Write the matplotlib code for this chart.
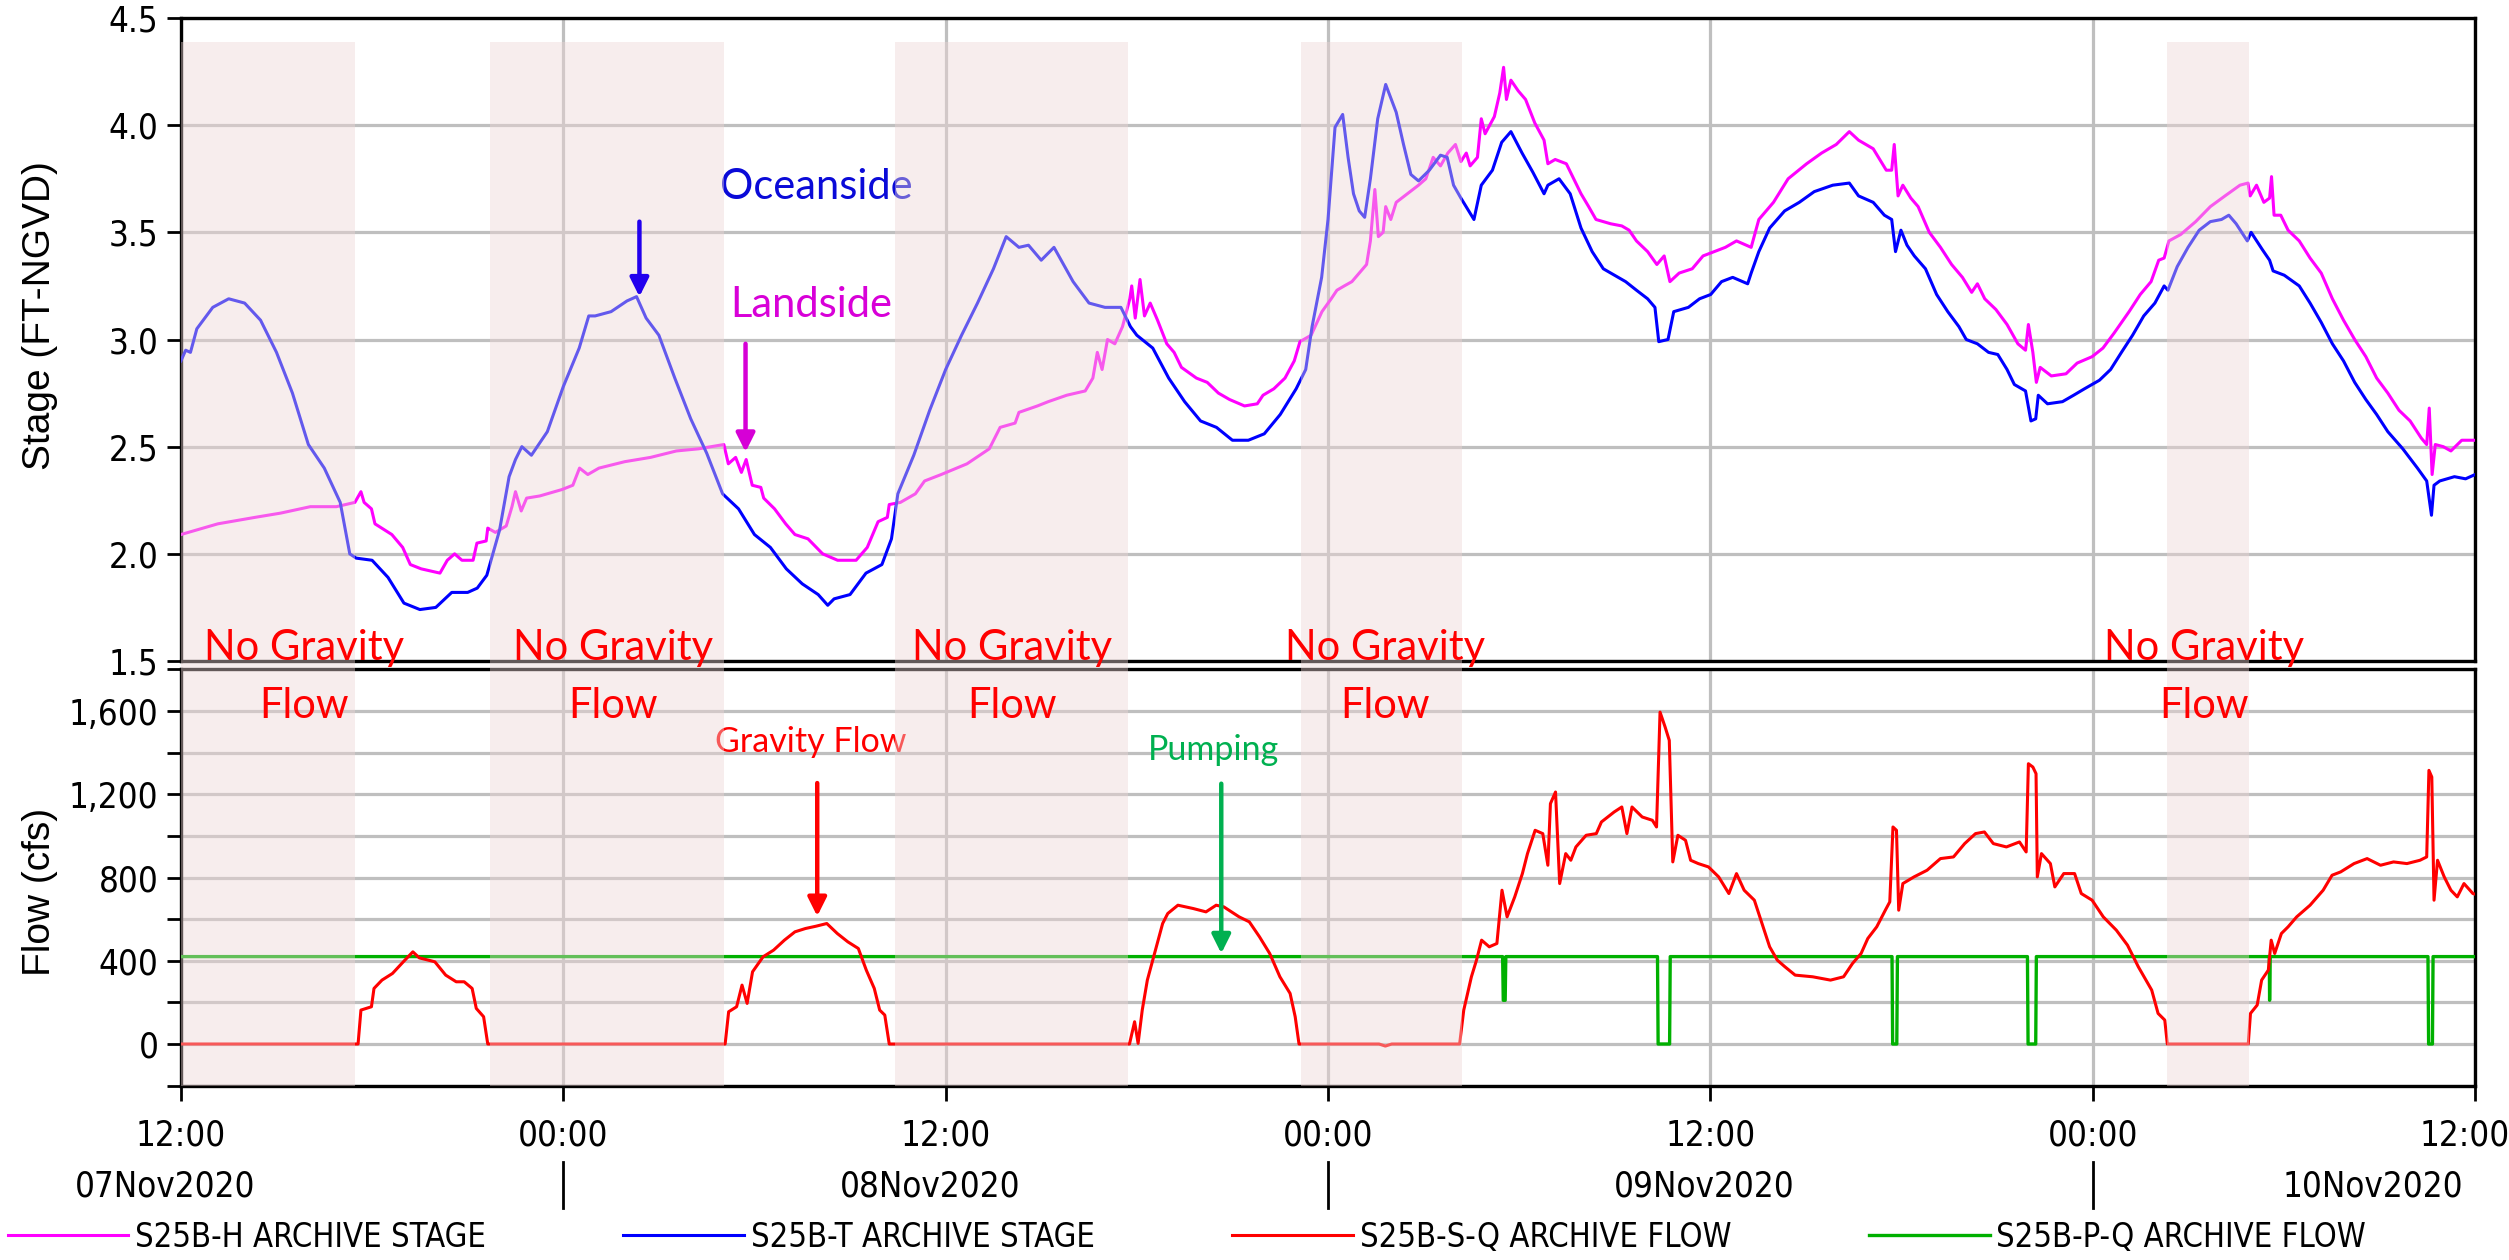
import matplotlib
matplotlib.use("Agg")
import matplotlib.pyplot as plt
from matplotlib import font_manager
from matplotlib.font_manager import FontProperties
from matplotlib.patches import Rectangle, FancyArrowPatch
from matplotlib.ticker import MultipleLocator, FuncFormatter
from matplotlib.transforms import blended_transform_factory, ScaledTranslation

# time axis: hours since 07Nov2020 12:00
landside_hr = [0, 1.16, 2.32, 3.13, 4.06, 4.88, 5.46, 5.65, 5.75, 5.98, 6.09, 6.62, 6.96, 7.20, 7.54, 8.13, 8.36,
               8.59, 8.82, 9.17, 9.29, 9.58, 9.63, 9.87, 10.21, 10.39, 10.50, 10.68, 10.85, 11.26, 11.96, 12.30,
               12.51, 12.77, 13.12, 13.93, 14.74, 15.55, 16.25, 17.04, 17.18, 17.41, 17.59, 17.74, 17.93, 18.20,
               18.29, 18.63, 18.98, 19.27, 19.68, 20.14, 20.61, 21.19, 21.54, 21.88, 22.17, 22.23, 22.58, 23.05,
               23.34, 23.86, 24.67, 25.37, 25.71, 26.18, 26.30, 26.88, 27.22, 27.80, 28.38, 28.62, 28.76, 28.91,
               29.08, 29.31, 29.55, 29.78, 29.84, 29.95, 30.10, 30.24, 30.42, 30.65, 30.94, 31.17, 31.40, 31.87,
               32.21, 32.56, 32.91, 33.38, 33.78, 33.96, 34.30, 34.65, 34.94, 35.12, 35.47, 35.81, 36.10, 36.28,
               36.51, 36.75, 36.98, 37.21, 37.33, 37.47, 37.58, 37.73, 37.81, 37.97, 38.14, 38.49, 38.84, 39.07,
               39.30, 39.53, 39.76, 40.00, 40.17, 40.34, 40.46, 40.69, 40.81, 40.93, 41.22, 41.39, 41.51, 41.60,
               41.74, 41.97, 42.20, 42.49, 42.78, 42.90, 43.13, 43.48, 43.71, 43.94, 44.18, 44.41, 44.87, 45.22,
               45.45, 45.68, 46.03, 46.32, 46.55, 46.73, 47.02, 47.43, 47.77, 48.12, 48.47, 48.82, 49.28, 49.52,
               49.98, 50.44, 51.02, 51.49, 51.95, 52.36, 52.65, 53.11, 53.52, 53.69, 53.77, 53.89, 54.04, 54.29,
               54.52, 54.87, 55.22, 55.57, 55.91, 56.20, 56.38, 56.61, 56.96, 57.31, 57.65, 57.89, 57.98, 58.12,
               58.23, 58.35, 58.70, 59.16, 59.51, 59.98, 60.32, 60.67, 61.14, 61.49, 61.83, 62.07, 62.24, 62.39,
               62.76, 63.23, 63.69, 64.15, 64.62, 64.87, 64.94, 65.14, 65.37, 65.55, 65.61, 65.69, 65.90, 66.13,
               66.48, 66.82, 67.17, 67.52, 67.87, 68.22, 68.57, 68.91, 69.26, 69.61, 69.96, 70.31, 70.48, 70.56,
               70.65, 70.75, 71.00, 71.24, 71.58, 72.0]
landside_ft = [2.09, 2.14, 2.17, 2.19, 2.22, 2.22, 2.24, 2.29, 2.24, 2.21, 2.14, 2.09, 2.03, 1.95, 1.93, 1.91, 1.97,
               2.00, 1.97, 1.97, 2.05, 2.06, 2.12, 2.10, 2.13, 2.22, 2.29, 2.20, 2.26, 2.27, 2.30, 2.32,
               2.40, 2.37, 2.40, 2.43, 2.45, 2.48, 2.49, 2.51, 2.42, 2.45, 2.38, 2.44, 2.32, 2.31,
               2.26, 2.21, 2.14, 2.09, 2.07, 2.00, 1.97, 1.97, 2.03, 2.15, 2.17, 2.23, 2.24, 2.28,
               2.34, 2.37, 2.42, 2.49, 2.59, 2.61, 2.66, 2.69, 2.71, 2.74, 2.76, 2.82, 2.94, 2.86,
               3.00, 2.98, 3.06, 3.19, 3.25, 3.10, 3.28, 3.11, 3.17, 3.09, 2.98, 2.94, 2.87, 2.82,
               2.80, 2.75, 2.72, 2.69, 2.70, 2.74, 2.77, 2.82, 2.90, 2.99, 3.02, 3.13, 3.19, 3.23,
               3.25, 3.27, 3.31, 3.35, 3.46, 3.70, 3.48, 3.50, 3.62, 3.56, 3.64, 3.68, 3.72, 3.75,
               3.85, 3.81, 3.87, 3.91, 3.83, 3.87, 3.81, 3.85, 4.03, 3.96, 4.04, 4.15, 4.27, 4.12,
               4.21, 4.16, 4.12, 4.01, 3.93, 3.82, 3.84, 3.82, 3.75, 3.68, 3.62, 3.56, 3.54, 3.53,
               3.51, 3.46, 3.41, 3.35, 3.39, 3.27, 3.31, 3.33, 3.39, 3.41, 3.43, 3.46, 3.43, 3.56,
               3.64, 3.75, 3.82, 3.87, 3.91, 3.97, 3.93, 3.89, 3.79, 3.79, 3.91, 3.67, 3.72, 3.66,
               3.62, 3.50, 3.43, 3.35, 3.29, 3.22, 3.26, 3.19, 3.14, 3.07, 2.98, 2.95, 3.07, 2.94,
               2.80, 2.87, 2.83, 2.84, 2.89, 2.92, 2.96, 3.03, 3.13, 3.21, 3.27, 3.37, 3.38, 3.46,
               3.49, 3.55, 3.62, 3.67, 3.72, 3.73, 3.67, 3.72, 3.64, 3.66, 3.76, 3.58, 3.58, 3.51,
               3.46, 3.38, 3.31, 3.19, 3.09, 3.00, 2.92, 2.82, 2.75, 2.67, 2.62, 2.54, 2.51, 2.68,
               2.37, 2.51, 2.50, 2.48, 2.53, 2.53]

oceanside_hr = [0, 0.15, 0.3, 0.5, 1, 1.5, 2, 2.5, 3, 3.5, 4, 4.5, 5, 5.3, 5.5, 6, 6.5, 7, 7.5, 8, 8.5, 9, 9.3,
                9.6, 10, 10.3, 10.5, 10.7, 11, 11.5, 12, 12.5, 12.8, 13, 13.5, 14, 14.3, 14.6, 15, 15.5, 16, 16.5,
                17, 17.5, 18, 18.5, 19, 19.5, 20, 20.3, 20.5, 21, 21.5, 22, 22.3, 22.5, 23, 23.5, 24, 24.5, 25,
                25.5, 25.9, 26.3, 26.6, 27, 27.4, 28, 28.5, 29, 29.5, 29.8, 30, 30.5, 31, 31.5, 32, 32.5, 33,
                33.5, 34, 34.5, 35, 35.3, 35.5, 35.8, 36.0, 36.22, 36.46, 36.63, 36.80, 36.98, 37.15, 37.33,
                37.56, 37.81, 38.14, 38.37, 38.60, 38.84, 39.18, 39.53, 39.74, 39.94, 40.17, 40.58, 40.81, 41.16,
                41.45, 41.74, 42.09, 42.43, 42.78, 42.90, 43.25, 43.60, 43.94, 44.29, 44.64, 44.99, 45.34, 45.68,
                46.03, 46.26, 46.38, 46.67, 46.85, 47.31, 47.66, 48.01, 48.35, 48.70, 49.17, 49.28, 49.52, 49.86,
                50.33, 50.79, 51.26, 51.84, 52.36, 52.65, 53.11, 53.46, 53.69, 53.81, 53.98, 54.17, 54.40, 54.75,
                55.10, 55.45, 55.80, 56.03, 56.38, 56.73, 57.02, 57.31, 57.54, 57.89, 58.06, 58.21, 58.29, 58.58,
                59.05, 59.40, 59.74, 60.21, 60.56, 60.90, 61.25, 61.60, 61.95, 62.24, 62.36, 62.65, 62.99, 63.34,
                63.69, 64.04, 64.27, 64.50, 64.85, 64.97, 65.32, 65.55, 65.66, 66.01, 66.48, 66.82, 67.17, 67.52,
                67.87, 68.22, 68.57, 68.91, 69.26, 69.73, 70.19, 70.48, 70.63, 70.71, 70.89, 71.35, 71.70, 72.0]
oceanside_ft = [2.90, 2.95, 2.94, 3.05, 3.15, 3.19, 3.17, 3.09, 2.94, 2.75, 2.51, 2.40, 2.24, 2.00, 1.98, 1.97, 1.89,
                1.77, 1.74, 1.75, 1.82, 1.82, 1.84, 1.90, 2.11, 2.36, 2.44, 2.50, 2.46, 2.57, 2.78, 2.96, 3.11,
                3.11, 3.13, 3.18, 3.20, 3.10, 3.02, 2.82, 2.63, 2.47, 2.28, 2.21, 2.09, 2.03, 1.93, 1.86, 1.81,
                1.76, 1.79, 1.81, 1.91, 1.95, 2.07, 2.28, 2.46, 2.67, 2.86, 3.02, 3.17, 3.33, 3.48, 3.43, 3.44,
                3.37, 3.43, 3.27, 3.17, 3.15, 3.15, 3.06, 3.02, 2.96, 2.82, 2.71, 2.62, 2.59, 2.53, 2.53, 2.56,
                2.65, 2.77, 2.86, 3.06, 3.29, 3.56, 3.99, 4.05, 3.85, 3.68, 3.60, 3.57, 3.75, 4.03, 4.19, 4.06,
                3.91, 3.77, 3.74, 3.79, 3.86, 3.85, 3.72, 3.66, 3.56, 3.72, 3.79, 3.92, 3.97, 3.87, 3.78, 3.68,
                3.72, 3.75, 3.68, 3.52, 3.41, 3.33, 3.30, 3.27, 3.23, 3.19, 3.15, 2.99, 3.00, 3.13, 3.15, 3.19,
                3.21, 3.27, 3.29, 3.26, 3.31, 3.41, 3.52, 3.60, 3.64, 3.69, 3.72, 3.73, 3.67, 3.64, 3.58, 3.56,
                3.41, 3.51, 3.44, 3.39, 3.33, 3.21, 3.13, 3.06, 3.00, 2.98, 2.94, 2.93, 2.86, 2.79, 2.76, 2.62,
                2.63, 2.74, 2.70, 2.71, 2.74, 2.77, 2.81, 2.86, 2.94, 3.02, 3.11, 3.17, 3.25, 3.23, 3.34, 3.43,
                3.51, 3.55, 3.56, 3.58, 3.54, 3.46, 3.50, 3.42, 3.37, 3.32, 3.30, 3.25, 3.17, 3.08, 2.98, 2.90,
                2.80, 2.72, 2.65, 2.57, 2.49, 2.40, 2.34, 2.18, 2.32, 2.34, 2.36, 2.35, 2.37]

gravity_hr = [0, 5.56, 5.65, 5.98, 6.06, 6.31, 6.64, 6.98, 7.28, 7.48, 7.97, 8.31, 8.64, 8.89, 9.14, 9.27, 9.50, 9.63,
              17.08, 17.19, 17.44, 17.61, 17.77, 17.94, 18.27, 18.60, 18.94, 19.27, 19.60, 19.93, 20.27, 20.60,
              20.93, 21.26, 21.51, 21.76, 21.93, 22.09, 22.23,
              29.77, 29.93, 30.04, 30.17, 30.33, 30.57, 30.81, 30.97, 31.29, 31.77, 32.17, 32.49, 32.73, 33.21,
              33.53, 33.85, 34.17, 34.49, 34.81, 34.97, 35.09, 37.6, 37.8, 38.0,
              40.13, 40.26, 40.50, 40.66, 40.82, 41.06, 41.30, 41.46, 41.62, 41.86, 42.10, 42.26, 42.50, 42.74,
              42.90, 42.98, 43.14, 43.27, 43.46, 43.62, 43.78, 44.10, 44.42, 44.58, 44.98, 45.22, 45.38, 45.54,
              45.86, 46.18, 46.31, 46.42, 46.58, 46.71, 46.82, 46.98, 47.22, 47.38, 47.62, 47.94, 48.26, 48.58,
              48.82, 49.06, 49.38, 49.62, 49.86, 50.10, 50.34, 50.66, 51.21, 51.77, 52.18, 52.46, 52.73, 52.94,
              53.22, 53.49, 53.63, 53.73, 53.84, 53.91, 54.04, 54.39, 54.80, 55.22, 55.63, 55.98, 56.32, 56.60,
              56.88, 57.29, 57.70, 57.91, 57.98, 58.12, 58.22, 58.26, 58.39, 58.67, 58.81, 59.09, 59.43, 59.64,
              59.98, 60.33, 60.74, 61.09, 61.43, 61.85, 62.05, 62.26, 62.34,
              64.88, 64.95, 65.16, 65.30, 65.51, 65.60, 65.71, 65.92, 66.13, 66.40, 66.82, 67.23, 67.51, 67.78,
              68.20, 68.61, 69.03, 69.44, 69.86, 70.27, 70.48, 70.55, 70.64, 70.71, 70.82, 71.03, 71.24, 71.44,
              71.65, 71.93, 72.0]
gravity_cfs = [0, 0, 163, 179, 267, 307, 339, 395, 443, 414, 395, 331, 299, 299, 267, 171, 131, 0,
               0, 155, 179, 283, 195, 347, 419, 451, 499, 539, 555, 566, 579, 531,
               491, 459, 355, 267, 163, 139, 0,
               0, 107, 3, 163, 307, 443, 579, 627, 667, 651, 635, 667, 659, 611,
               587, 515, 435, 323, 243, 131, 0, 0, -10, 0,
               0, 163, 323, 403, 499, 467, 483, 739, 611, 707, 819, 915, 1027, 1011,
               859, 1155, 1211, 771, 915, 883, 947, 1003, 1011, 1067, 1115, 1139, 1011, 1139,
               1091, 1075, 1043, 1595, 1523, 1459, 875, 1003, 979, 883, 867, 851, 803, 723,
               819, 739, 691, 579, 467, 403, 371, 331, 323, 307, 323, 387, 435, 507,
               563, 643, 683, 1043, 1027, 643, 771, 803, 835, 891, 899, 963, 1011, 1019,
               963, 947, 971, 923, 1347, 1331, 1299, 803, 915, 867, 755, 819, 819, 723,
               691, 611, 547, 475, 371, 259, 147, 115, 0,
               0, 147, 187, 307, 355, 499, 435, 531, 563, 611, 667, 739, 811, 827,
               867, 891, 859, 875, 867, 883, 899, 1315, 1283, 691, 883, 803, 739, 707,
               771, 723, 720]

pump_hr = [0, 41.48, 41.50, 41.56, 41.58, 46.34, 46.36, 46.72, 46.74, 53.70, 53.72, 53.85, 53.87, 57.95, 57.97,
           58.21, 58.23, 65.54, 65.55, 65.57, 70.52, 70.54, 70.66, 70.68, 72]
pump_cfs = [420, 420, 210, 210, 420, 420, 0, 0, 420, 420, 0, 0, 420, 420, 0,
            0, 420, 420, 210, 420, 420, 0, 0, 420, 420]

# periods without gravity flow (start, end hours)
no_gravity = [(0, 5.46), (9.69, 17.04), (22.41, 29.72), (35.15, 40.19), (62.32, 64.89)]
no_gravity_mid = [3.88, 13.56, 26.1, 37.8, 63.5]

tick_hours = [0, 12, 24, 36, 48, 60, 72]
tick_names = ["12:00", "00:00", "12:00", "00:00", "12:00", "00:00", "12:00"]
day_names = ["07Nov2020", "08Nov2020", "09Nov2020", "10Nov2020"]
day_pos = [-0.5, 23.5, 47.8, 68.8]
midnights = [12, 36, 60]


def narrow_font():
    # look for a condensed sans face, like the Arial Narrow of the original
    best = None
    for f in font_manager.fontManager.ttflist:
        if f.style != "normal" or f.weight not in (400, "normal", "regular"):
            continue
        squeezed = ("Narrow" in f.name or "Condensed" in f.name or f.stretch in ("condensed", "semi-condensed"))
        if not squeezed or "Extra" in f.name or "Mono" in f.name or "Serif" in f.name:
            continue
        rank = 0 if "Liberation Sans Narrow" in f.name else 1 if "Sans" in f.name or "Roboto" in f.name else 2
        if best is None or rank < best[0]:
            best = (rank, f.fname)
    return best[1] if best else None


path = narrow_font()
if path:
    tick_fp = FontProperties(fname=path, size=25)
    leg_fp = FontProperties(fname=path, size=23.5)
else:
    tick_fp = FontProperties(family="Liberation Sans", size=22)
    leg_fp = FontProperties(family="Liberation Sans", size=21)
names = {f.name for f in font_manager.fontManager.ttflist}
note_font = "Lato" if "Lato" in names else "DejaVu Sans"

fig = plt.figure(figsize=(25.09, 12.6), dpi=100)
ax1 = fig.add_axes([0.0721, 0.4754, 0.9144, 0.5103])
ax2 = fig.add_axes([0.0721, 0.1384, 0.9144, 0.3303], sharex=ax1)

grid_kw = dict(color="#bfbfbf", lw=2.3)

l_h, = ax1.plot(landside_hr, landside_ft, color="#ff00ff", lw=2.2, zorder=3)
l_t, = ax1.plot(oceanside_hr, oceanside_ft, color="#0000ff", lw=2.2, zorder=3)
l_pq, = ax2.plot(pump_hr, pump_cfs, color="#00b000", lw=2.4, zorder=3)
l_sq, = ax2.plot(gravity_hr, gravity_cfs, color="#ff0000", lw=2.2, zorder=4)

ax1.set_ylim(1.5, 4.5)
ax1.yaxis.set_major_locator(MultipleLocator(0.5))
ax1.yaxis.set_major_formatter(FuncFormatter(lambda v, p: f"{v:.1f}"))
ax2.set_ylim(-200, 1800)
ax2.yaxis.set_major_locator(MultipleLocator(400))
ax2.yaxis.set_minor_locator(MultipleLocator(200))
ax2.yaxis.set_major_formatter(FuncFormatter(lambda v, p: f"{int(v):,}" if 0 <= v <= 1600 else ""))
ax2.set_xlim(0, 72)
ax2.set_xticks(tick_hours)
ax2.set_xticklabels(tick_names)

for ax in (ax1, ax2):
    ax.set_axisbelow(True)
    ax.grid(True, which="both", **grid_kw)
    for s in ax.spines.values():
        s.set_linewidth(2.4)
        s.set_color("black")
    ax.tick_params(axis="y", which="both", direction="out", length=10, width=2, pad=6)
    for lab in ax.get_yticklabels():
        lab.set_fontproperties(tick_fp)
ax1.tick_params(axis="x", length=0, labelbottom=False)
ax2.tick_params(axis="x", direction="out", length=11, width=2, pad=13)
for lab in ax2.get_xticklabels():
    lab.set_fontproperties(tick_fp)
# last time label sits on the right edge: pull it in a little so it is not cut
last = ax2.xaxis.get_major_ticks()[-1].label1
last.set_transform(last.get_transform() + ScaledTranslation(-0.1, 0, fig.dpi_scale_trans))

ax1.set_ylabel("Stage (FT-NGVD)", fontsize=28, family="Liberation Sans")
ax1.yaxis.set_label_coords(-0.0536, 0.537)
ax2.set_ylabel("Flow (cfs)", fontsize=28, family="Liberation Sans")
ax2.yaxis.set_label_coords(-0.0536, 0.465)

# date row under the time labels
tr = blended_transform_factory(ax2.transData, fig.transFigure)
for name, x in zip(day_names, day_pos):
    ax2.text(x, 0.0587, name, transform=tr, ha="center", va="center",
             fontproperties=tick_fp, clip_on=False)
for x in midnights:
    ax2.plot([x, x], [0.0413, 0.0778], transform=tr, color="black", lw=2, clip_on=False)

# shaded periods, laid over both panels
for a, b in no_gravity:
    fig.patches.append(Rectangle((a, 0.1384), b - a, 0.9667 - 0.1384, transform=tr,
                                 facecolor=(238 / 255, 214 / 255, 214 / 255), alpha=0.42,
                                 edgecolor="none", zorder=5))
for x in no_gravity_mid:
    fig.text(x, 0.476, "No Gravity", transform=tr, ha="center", va="baseline",
             color="#ff0000", fontsize=30, family=note_font, zorder=6)
    fig.text(x, 0.430, "Flow", transform=tr, ha="center", va="baseline",
             color="#ff0000", fontsize=30, family=note_font, zorder=6)

# notes and arrows (arrows sit above the shading)
ax1.text(19.93, 3.71, "Oceanside", color="#0a0ad8", fontsize=30, family=note_font,
         ha="center", va="center")
ax1.text(19.78, 3.16, "Landside", color="#d800d8", fontsize=30, family=note_font,
         ha="center", va="center")
ax2.text(19.78, 1450, "Gravity Flow", color="#ff0000", fontsize=24.5, family=note_font,
         ha="center", va="center")
ax2.text(32.41, 1415, "Pumping", color="#00b050", fontsize=24.5, family=note_font,
         ha="center", va="center")

arrows = [(ax1, 14.39, 3.55, 3.20, "#2200ee"),
          (ax1, 17.72, 2.98, 2.475, "#d600d6"),
          (ax2, 19.97, 1254, 614, "#ff0000"),
          (ax2, 32.65, 1251, 435, "#00b050")]
for ax, x, y0, y1, c in arrows:
    fig.add_artist(FancyArrowPatch((x, y0), (x, y1), transform=ax.transData, arrowstyle="-|>",
                                   lw=3.2, mutation_scale=28, shrinkA=0, shrinkB=0,
                                   color=c, zorder=7))

fig.legend([l_h, l_t, l_sq, l_pq],
           ["S25B-H ARCHIVE STAGE", "S25B-T ARCHIVE STAGE", "S25B-S-Q ARCHIVE FLOW", "S25B-P-Q ARCHIVE FLOW"],
           loc="center left", bbox_to_anchor=(0.003, 0.018, 0.94, 0), mode="expand", ncol=4,
           frameon=False, borderaxespad=0, borderpad=0, handlelength=3.7, handletextpad=0.2,
           prop=leg_fp)

fig.savefig("out.png", dpi=100, facecolor="white")
